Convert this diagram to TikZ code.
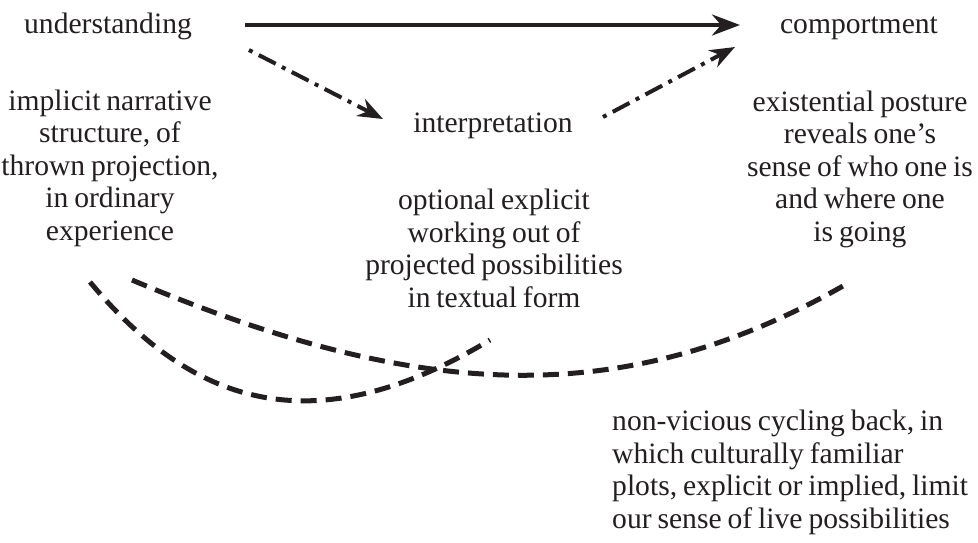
\documentclass[tikz,border=0pt]{standalone}
\usepackage{fontspec}
\setmainfont{Liberation Serif}[WordSpace=0.8]
\usetikzlibrary{arrows.meta}
\definecolor{ink}{RGB}{35,31,32}
\begin{document}
\begin{tikzpicture}[x=1pt,y=-1pt,
  lbl/.style={inner sep=0pt, anchor=base, align=center, text=ink, font=\fontsize{29.6}{32.5}\selectfont},
  lbll/.style={lbl, align=left, anchor=base west},
  solidarrow/.style={draw=ink, line width=4pt, -{Stealth[length=28pt,width=21pt,inset=9pt]}},
  dasharrow/.style={draw=ink, line width=4pt, dash pattern=on 4pt off 7pt on 19pt off 7pt, -{Stealth[length=25pt,width=19pt,inset=8pt]}},
  backloop/.style={draw=ink, line width=5pt, dash pattern=on 16pt off 9pt}]
\useasboundingbox (0,0) rectangle (978,542);

\node[lbl] (und) at (108,33) {understanding};
\node[lbl] (comp) at (859,33) {comportment};
\node[lbl] (interp) at (493,132) {interpretation};
\node[lbl] (impl) at (110,240) {implicit narrative\\structure, of\\thrown projection,\\in ordinary\\experience};
\node[lbl] (exist) at (860,241) {existential posture\\reveals one’s\\sense of who one is\\and where one\\is going};
\node[lbl] (opt) at (494,307) {optional explicit\\working out of\\projected possibilities\\in textual form};
\node[lbll] (cyc) at (612,528) {non-vicious cycling back, in\\which culturally familiar\\plots, explicit or implied, limit\\our sense of live possibilities};

\draw[solidarrow] ([shift={(137,-8)}]und.base) -- ([shift={(-119,-8)}]comp.base);
\draw[dasharrow] ([shift={(141,17)}]und.base) -- ([shift={(-110,-13)}]interp.base);
\draw[dasharrow] ([shift={(110,-15)}]interp.base) -- ([shift={(-124,14)}]comp.base);

\draw[backloop] ([shift={(-20,42)}]impl.base) .. controls (190,402) and (310,448) .. ([shift={(-4,33)}]opt.base);
\draw[backloop] ([shift={(22,40)}]impl.base) .. controls (412,398) and (620,415) .. ([shift={(-10,41)}]exist.base);
\end{tikzpicture}
\end{document}
